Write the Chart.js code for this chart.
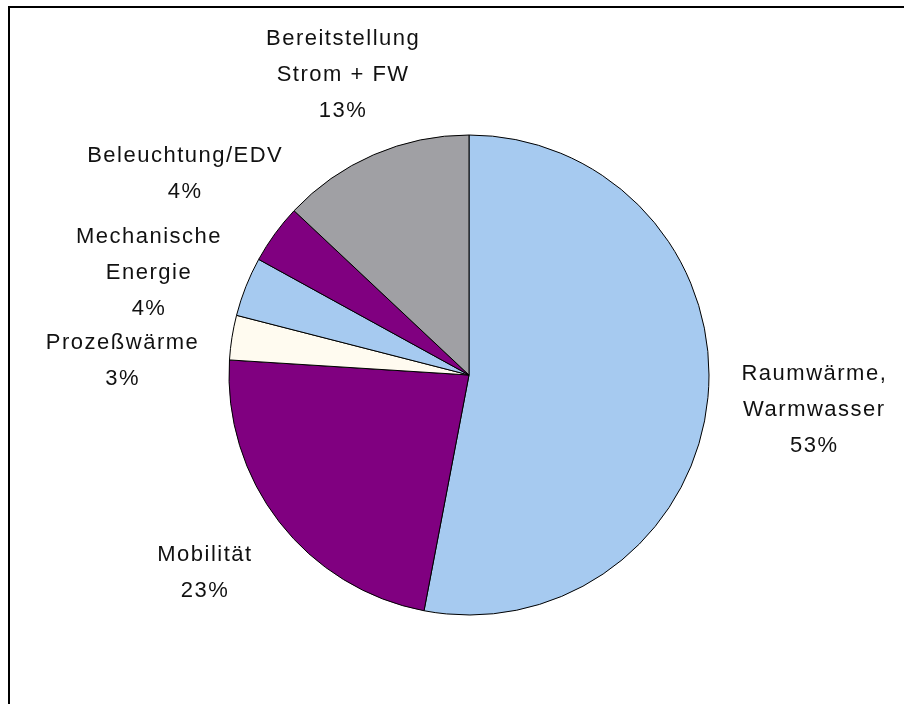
<!DOCTYPE html>
<html>
<head>
<meta charset="utf-8">
<script src="https://cdn.jsdelivr.net/npm/chart.js@4"></script>
<style>
    html, body { margin: 0; padding: 0; background: #fff; overflow: hidden; }
    #frame {
        position: absolute; left: 8px; top: 6px;
        width: 1000px; height: 1000px;
        border-left: 2px solid #000; border-top: 2px solid #000;
    }
    #chart { position: absolute; left: 0; top: 0; }
</style>
</head>
<body>
<div id="frame"></div>
<canvas id="chart" width="904" height="704"></canvas>
<script>
// Chart data
const categories = [
    ['Raumwärme,', 'Warmwasser'],
    ['Mobilität'],
    ['Prozeßwärme'],
    ['Mechanische', 'Energie'],
    ['Beleuchtung/EDV'],
    ['Bereitstellung', 'Strom + FW']
];
const shares = [53, 23, 3, 4, 4, 13];
const sliceColors = ['#A6CAF0', '#800080', '#FFFBF0', '#A6CAF0', '#800080', '#A0A0A4'];

// label placement nudges (layout only), one per slice
const labelNudge = [[4, 4], [-13, 10], [-4, 34], [-1, 17], [14, -21], [12, -3]];

const outsideLabels = {
    id: 'outsideLabels',
    afterDatasetsDraw(chart) {
        const ctx = chart.ctx;
        const meta = chart.getDatasetMeta(0);
        const lineH = 36;
        ctx.save();
        ctx.font = '22px "Liberation Sans", Arial, sans-serif';
        ctx.letterSpacing = '1.5px';
        ctx.fillStyle = '#111';
        ctx.textAlign = 'center';
        ctx.textBaseline = 'middle';
        meta.data.forEach(function(arc, i) {
            const lines = categories[i].concat([shares[i] + '%']);
            const mid = (arc.startAngle + arc.endAngle) / 2;
            const dx = Math.cos(mid), dy = Math.sin(mid);
            const hw = Math.max.apply(null, lines.map(l => ctx.measureText(l).width)) / 2;
            const hh = lines.length * lineH / 2;
            const r = arc.outerRadius + 30;
            const cx = arc.x + r * dx + hw * dx + labelNudge[i][0];
            const cy = arc.y + r * dy + hh * dy + labelNudge[i][1];
            lines.forEach(function(line, k) {
                ctx.fillText(line, cx, cy - hh + lineH / 2 + k * lineH);
            });
        });
        ctx.restore();
    }
};

new Chart(document.getElementById('chart'), {
    type: 'pie',
    data: {
        labels: categories,
        datasets: [{
            data: shares,
            backgroundColor: sliceColors,
            borderColor: '#000',
            borderWidth: 1
        }]
    },
    options: {
        responsive: false,
        animation: false,
        layout: { padding: { left: 228.5, right: 194.5, top: 134.5, bottom: 88.5 } },
        plugins: {
            legend: { display: false },
            tooltip: { enabled: false }
        }
    },
    plugins: [outsideLabels]
});
</script>
</body>
</html>
